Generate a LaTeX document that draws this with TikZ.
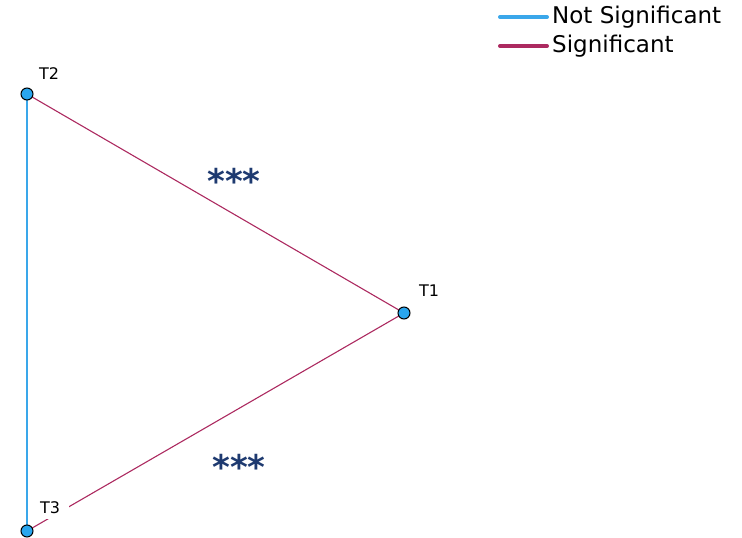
\documentclass[tikz,border=0pt]{standalone}
\usepackage{fontspec}
\setmainfont{DejaVu Sans}
\definecolor{nsblue}{HTML}{3AA7EA}
\definecolor{sigred}{HTML}{AC2A60}
\definecolor{starblue}{HTML}{1E3A70}
\definecolor{ptfill}{HTML}{2AA6EE}
\begin{document}
\begin{tikzpicture}[x=1pt,y=-1pt,
  pt/.style={circle,draw=black,fill=ptfill,line width=1pt,minimum size=12pt,inner sep=0pt},
  lbl/.style={font=\fontsize{16}{16}\selectfont,inner sep=1pt},
  stars/.style={font=\fontsize{34}{34}\selectfont\bfseries,text=starblue},
  nsline/.style={draw=nsblue,line width=2pt},
  sigline/.style={draw=sigred,line width=1.1pt},
  legtext/.style={font=\fontsize{23}{23}\selectfont,anchor=west,inner sep=0pt}]
\useasboundingbox (0,0) rectangle (742,538);
\coordinate (T1) at (404,313);
\coordinate (T2) at (27,94);
\coordinate (T3) at (27,531);
\draw[nsline] (T2) -- (T3);
\draw[sigline] (T2) -- (T1);
\draw[sigline] (T3) -- (T1);
\node[pt] (n1) at (T1) {};
\node[pt] (n2) at (T2) {};
\node[pt] (n3) at (T3) {};
\node[lbl] (l1) at (429,291) {T1};
\node[lbl] (l2) at (49,74) {T2};
\node[lbl,fill=white,inner xsep=9pt,inner ysep=5pt] (l3) at (50,508) {T3};
\node[stars] (s1) at (234,181) {***};
\node[stars] (s2) at (239,467) {***};
% legend
\coordinate (a1) at (500,17);
\coordinate (b1) at (547,17);
\coordinate (a2) at (500,46);
\coordinate (b2) at (547,46);
\draw[draw=nsblue,line width=4pt,line cap=round] (a1) -- (b1);
\draw[draw=sigred,line width=4pt,line cap=round] (a2) -- (b2);
\node[legtext] (t1) at (552,17) {Not Significant};
\node[legtext] (t2) at (552,46) {Significant};
\end{tikzpicture}
\end{document}
